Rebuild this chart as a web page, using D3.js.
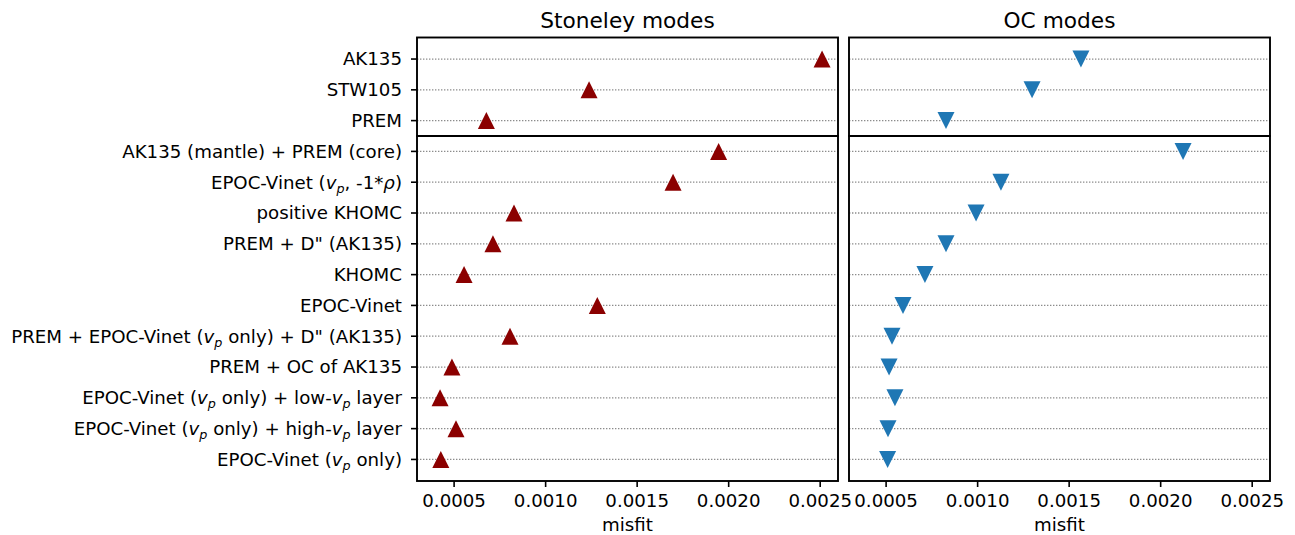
<!DOCTYPE html>
<html>
<head>
<meta charset="utf-8">
<script src="https://cdn.jsdelivr.net/npm/d3@7"></script>
<style>
  html, body { margin: 0; padding: 0; background: #fff; }
  svg { display: block; font-family: "DejaVu Sans", sans-serif; }
</style>
</head>
<body>
<svg id="chart" width="1295" height="535"></svg>
<script>
// ---------- data ----------
const refModels = ["AK135", "STW105", "PREM"];
const testModels = [
  "AK135 (mantle) + PREM (core)",
  "EPOC-Vinet ($v_p$, -1*$\\rho$)",
  "positive KHOMC",
  "PREM + D\" (AK135)",
  "KHOMC",
  "EPOC-Vinet",
  "PREM + EPOC-Vinet ($v_p$ only) + D\" (AK135)",
  "PREM + OC of AK135",
  "EPOC-Vinet ($v_p$ only) + low-$v_p$ layer",
  "EPOC-Vinet ($v_p$ only) + high-$v_p$ layer",
  "EPOC-Vinet ($v_p$ only)"
];
const stoneleyRef = [0.002513, 0.001240, 0.000679];
const stoneleyTest = [0.001948, 0.001699, 0.000830, 0.000715, 0.000557, 0.001285,
                      0.000808, 0.000491, 0.000426, 0.000513, 0.000430];
const ocRef = [0.001567, 0.001300, 0.000830];
const ocTest = [0.002125, 0.001130, 0.000994, 0.000830, 0.000715, 0.000595,
                0.000535, 0.000519, 0.000551, 0.000513, 0.000511];
const xTicks = [0.0005, 0.0010, 0.0015, 0.0020, 0.0025];
const panelTitles = ["Stoneley modes", "OC modes"];
const xLabel = "misfit";

// ---------- layout ----------
const svg = d3.select("#chart");
const panelW = 421;
const panelX = [417, 849];
const topY0 = 37.5, midY = 136, botY1 = 481;
const tickFont = 18.2, titleFont = 21.7;

const x = d3.scaleLinear().domain([0.0003, 0.0026]).range([0, panelW]);
const yTop = d3.scaleLinear().domain([-0.7, refModels.length - 0.5]).range([topY0, midY]);
const yBot = d3.scaleLinear().domain([-0.5, testModels.length - 0.3]).range([midY, botY1]);

// label with simple mathtext support
function addLabel(textSel, str) {
  const parts = str.split(/(\$[^$]*\$)/).filter(s => s.length);
  let shift = 0;
  function span() {
    const t = textSel.append("tspan");
    if (shift !== 0) { t.attr("dy", (-shift) + "px"); shift = 0; }
    return t;
  }
  parts.forEach(p => {
    if (p.startsWith("$")) {
      const m = p.slice(1, -1);
      const re = /(\\rho|[A-Za-z])(_([A-Za-z]))?/g;
      let mm;
      while ((mm = re.exec(m)) !== null) {
        const base = mm[1] === "\\rho" ? "ρ" : mm[1];
        span().attr("font-style", "italic").text(base);
        if (mm[3]) {
          const s = tickFont * 0.22;
          textSel.append("tspan").attr("font-style", "italic")
            .attr("font-size", tickFont * 0.7).attr("dy", s + "px").text(mm[3]);
          shift = s;
        }
      }
    } else {
      span().text(p);
    }
  });
}

const panels = [
  { ref: stoneleyRef, test: stoneleyTest, color: "#8b0000", up: true },
  { ref: ocRef, test: ocTest, color: "#1f77b4", up: false }
];

function tri(cx, cy, up, s) {
  const h = s / 2;
  return up
    ? `M${cx},${cy - h}L${cx - h},${cy + h}L${cx + h},${cy + h}Z`
    : `M${cx},${cy + h}L${cx - h},${cy - h}L${cx + h},${cy - h}Z`;
}

panels.forEach((pan, pi) => {
  const g = svg.append("g").attr("transform", `translate(${panelX[pi]},0)`);

  const rows = [
    ...refModels.map((m, i) => ({ y: yTop(i), v: pan.ref[i] })),
    ...testModels.map((m, i) => ({ y: yBot(i), v: pan.test[i] }))
  ];
  g.selectAll("line.grid").data(rows).enter().append("line")
    .attr("class", "grid")
    .attr("x1", 0).attr("x2", panelW)
    .attr("y1", d => d.y).attr("y2", d => d.y)
    .attr("stroke", "#8c8c8c").attr("stroke-width", 1.3)
    .attr("stroke-dasharray", "1.4,1.6");

  g.selectAll("path.mk").data(rows).enter().append("path")
    .attr("class", "mk")
    .attr("d", d => tri(x(d.v), d.y, pan.up, 17))
    .attr("fill", pan.color);

  g.append("rect").attr("x", 0).attr("y", topY0).attr("width", panelW).attr("height", midY - topY0)
    .attr("fill", "none").attr("stroke", "#000").attr("stroke-width", 1.9);
  g.append("rect").attr("x", 0).attr("y", midY).attr("width", panelW).attr("height", botY1 - midY)
    .attr("fill", "none").attr("stroke", "#000").attr("stroke-width", 1.9);

  const ax = g.append("g").attr("transform", `translate(0,${botY1})`)
    .call(d3.axisBottom(x).tickValues(xTicks).tickFormat(d3.format(".4f")).tickSize(6).tickPadding(7));
  ax.select(".domain").remove();
  ax.selectAll(".tick line").attr("stroke", "#000").attr("stroke-width", 1.6);
  ax.selectAll(".tick text").attr("fill", "#000").attr("font-size", tickFont)
    .attr("font-family", "DejaVu Sans");

  g.append("text").attr("x", panelW / 2).attr("y", 531)
    .attr("text-anchor", "middle").attr("font-size", tickFont).text(xLabel);

  g.append("text").attr("x", panelW / 2).attr("y", 28)
    .attr("text-anchor", "middle").attr("font-size", titleFont).text(panelTitles[pi]);

  if (pi === 0) {
    const labs = [
      ...refModels.map((m, i) => ({ y: yTop(i), t: m })),
      ...testModels.map((m, i) => ({ y: yBot(i), t: m }))
    ];
    labs.forEach(l => {
      g.append("line").attr("x1", -6).attr("x2", 0).attr("y1", l.y).attr("y2", l.y)
        .attr("stroke", "#000").attr("stroke-width", 1.6);
      const t = g.append("text").attr("x", -15).attr("y", l.y + tickFont * 0.35)
        .attr("text-anchor", "end").attr("font-size", tickFont);
      addLabel(t, l.t);
    });
  }
});
</script>
</body>
</html>
